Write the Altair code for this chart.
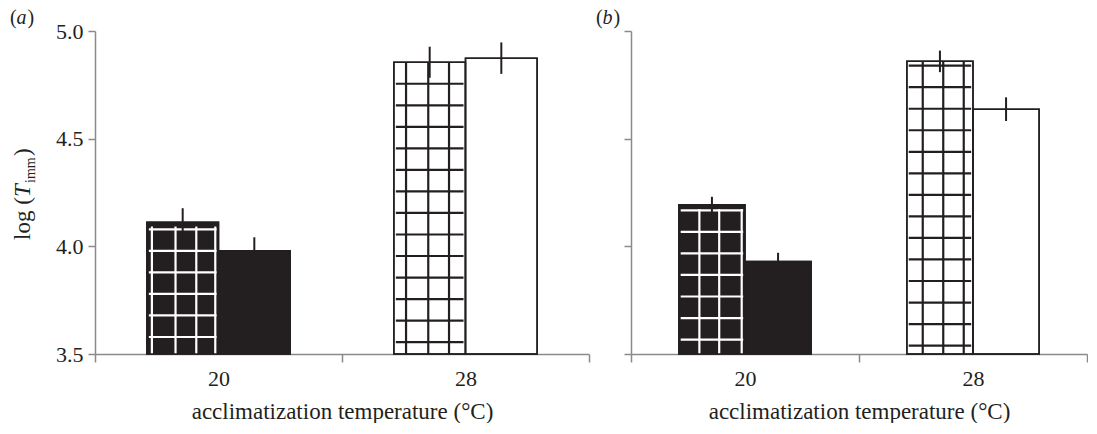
import altair as alt
import pandas as pd

# ---------------- data ----------------
temperature = ["20", "20", "28", "28"]
treatment = ["grid", "plain", "grid", "plain"]
mean_a = [4.112, 3.980, 4.855, 4.874]
se_a = [0.065, 0.062, 0.072, 0.073]
mean_b = [4.193, 3.929, 4.859, 4.637]
se_b = [0.037, 0.041, 0.050, 0.055]
y_ticks = [3.5, 4.0, 4.5, 5.0]
y_domain = [3.5, 5.0]
x_title = "acclimatization temperature (°C)"
panel_labels = ["a", "b"]

# ---------------- style ----------------
INK = "#231f20"
AXIS = "#8a8a8a"
FONT = "Liberation Serif"
BAR_W = 0.29          # bar width in band units
HATCH_STEP = 0.1      # spacing of the grid pattern (y units)
# pattern phase (y units) and vertical line positions (fraction of bar width)
hatch_a = {"20": (3.579, [0.07, 0.40, 0.69, 0.955]), "28": (3.555, [0.17, 0.48, 0.77])}
hatch_b = {"20": (3.567, [0.31, 0.61, 0.95]), "28": (3.539, [0.24, 0.55, 0.86])}
W_A, W_B, H = 494, 456, 323

temps = list(dict.fromkeys(temperature))


def build(means, ses, hatch):
    centers = {t: i + 0.5 for i, t in enumerate(temps)}
    rows = []
    for t, g, m, s in zip(temperature, treatment, means, ses):
        c = centers[t]
        x0, x1 = (c - BAR_W, c) if g == "grid" else (c, c + BAR_W)
        rows.append(dict(temp=t, group=g, mean=m, se=s, lo=m - s, hi=m + s,
                         x0=x0, x1=x1, xc=(x0 + x1) / 2, base=y_domain[0]))
    hl, vl = [], []
    for r in rows:
        if r["group"] != "grid":
            continue
        phase, fracs = hatch[r["temp"]]
        inset = 0.02 if r["temp"] == temps[0] else 0.0
        y = phase
        while y < r["mean"] - 0.005:
            hl.append(dict(temp=r["temp"], y=y, x0=r["x0"] + 0.008, x1=r["x1"] - 0.008))
            y += HATCH_STEP
        for f in fracs:
            vl.append(dict(temp=r["temp"], x=r["x0"] + f * BAR_W, y0=y_domain[0],
                           y1=r["mean"] - inset))
    return pd.DataFrame(rows), pd.DataFrame(hl), pd.DataFrame(vl)


def text_piece(txt, x, y, size, style="normal", angle=0, align="left"):
    return alt.Chart(pd.DataFrame({"label": [txt]})).mark_text(
        font=FONT, fontSize=size, fontStyle=style, angle=angle, align=align,
        baseline="alphabetic", color=INK
    ).encode(text="label:N", x=alt.value(x), y=alt.value(y))


label_expr = " : ".join(
    f"datum.value == {i + 0.5} ? '{t}'" for i, t in enumerate(temps)) + " : ''"
center_test = " || ".join(f"datum.value == {i + 0.5}" for i in range(len(temps)))


def panel(means, ses, hatch, width, letter, show_y_labels):
    bars, hl, vl = build(means, ses, hatch)
    xscale = alt.Scale(domain=[0, len(temps)], nice=False, zero=False)
    yscale = alt.Scale(domain=y_domain, nice=False, zero=False)
    xaxis = alt.Axis(
        values=[i * 0.5 for i in range(2 * len(temps) + 1)], labelExpr=label_expr,
        tickOpacity={"condition": {"test": center_test, "value": 0}, "value": 1},
        tickSize=8, labelPadding=6, title=x_title, titlePadding=11)
    yaxis = alt.Axis(values=y_ticks, format=".1f", labels=show_y_labels, tickSize=7,
                     labelPadding=5, title=None)

    def X(field):
        return alt.X(field, type="quantitative", scale=xscale, axis=xaxis)

    def Y(field):
        return alt.Y(field, type="quantitative", scale=yscale, axis=yaxis)

    fill_scale = alt.Scale(domain=temps, range=[INK, "white"])
    line_scale = alt.Scale(domain=temps, range=["white", INK])

    bar_layer = alt.Chart(bars).mark_rect(stroke=INK, strokeWidth=1.5).encode(
        x=X("x0"), x2="x1", y=Y("mean"), y2="base",
        fill=alt.Fill("temp:N", scale=fill_scale, legend=None),
    )
    h_layer = alt.Chart(hl).mark_rule(strokeWidth=2.2).encode(
        x=X("x0"), x2="x1", y=Y("y"),
        stroke=alt.Stroke("temp:N", scale=line_scale, legend=None),
    )
    v_layer = alt.Chart(vl).mark_rule(strokeWidth=2.2).encode(
        x=X("x"), y=Y("y0"), y2="y1",
        stroke=alt.Stroke("temp:N", scale=line_scale, legend=None),
    )
    outline = alt.Chart(bars).mark_rect(stroke=INK, strokeWidth=1.5, fillOpacity=0).encode(
        x=X("x0"), x2="x1", y=Y("mean"), y2="base",
    )
    err = alt.Chart(bars).mark_rule(color=INK, strokeWidth=2).encode(
        x=X("xc"), y=Y("lo"), y2="hi",
    )
    layers = [bar_layer, h_layer, v_layer, outline, err]
    lx = -85 if show_y_labels else -35
    layers += [
        text_piece("(", lx, -7, 20),
        text_piece(letter, lx + 6.5, -7, 20, "italic"),
        text_piece(")", lx + 17.5, -7, 20),
    ]
    if show_y_labels:
        bx, base_y = -65, 209
        layers += [
            text_piece("log (", bx, base_y, 23, angle=270),
            text_piece("T", bx, base_y - 43, 23, "italic", angle=270),
            text_piece("imm", bx + 5, base_y - 57, 14, angle=270),
            text_piece(")", bx, base_y - 84, 23, angle=270),
        ]
    return alt.layer(*layers).properties(width=width, height=H)


pa = panel(mean_a, se_a, hatch_a, W_A, panel_labels[0], True)
pb = panel(mean_b, se_b, hatch_b, W_B, panel_labels[1], False)

chart = (
    alt.hconcat(pa, pb, spacing=6)
    .properties(padding={"left": 10, "top": 8, "right": 0, "bottom": 0})
    .configure(font=FONT)
    .configure_view(stroke=None)
    .configure_axis(
        labelFont=FONT, titleFont=FONT, labelFontSize=22, titleFontSize=23,
        titleFontWeight="normal", labelColor=INK, titleColor=INK,
        domainColor=AXIS, tickColor=AXIS, domainWidth=1.5, tickWidth=1.5, grid=False,
    )
)

chart.save("out.html", embed_options={"renderer": "svg", "actions": False})
